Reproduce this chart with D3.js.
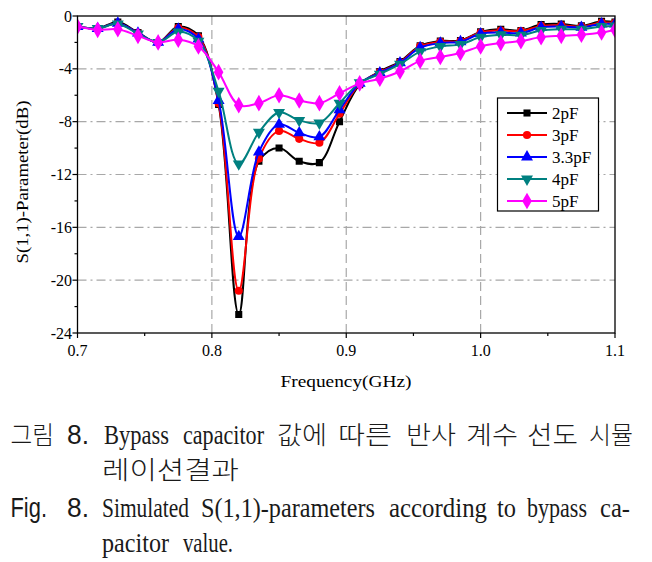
<!DOCTYPE html>
<html><head><meta charset="utf-8">
<script src="https://cdn.jsdelivr.net/npm/d3@7"></script>
<style>html,body{margin:0;padding:0;background:#fff;}</style>
</head><body>
<script>
const freq = [0.7,0.715,0.73,0.745,0.76,0.775,0.79,0.805,0.82,0.835,0.85,0.865,0.88,0.895,0.91,0.925,0.94,0.955,0.97,0.985,1.0,1.015,1.03,1.045,1.06,1.075,1.09,1.1];
const s2pF  = [-0.8,-0.95,-0.45,-1.25,-2.0,-0.8,-1.5,-6.7,-22.6,-11.0,-10.0,-11.0,-11.1,-8.0,-5.2,-4.2,-3.45,-2.25,-1.9,-1.85,-1.2,-1.0,-1.1,-0.65,-0.6,-0.75,-0.4,-0.45];
const s3pF  = [-0.8,-0.95,-0.55,-1.3,-2.0,-0.9,-1.6,-6.6,-20.8,-10.8,-8.7,-9.3,-9.6,-7.4,-5.15,-4.25,-3.5,-2.3,-1.95,-1.9,-1.25,-1.1,-1.15,-0.75,-0.7,-0.8,-0.5,-0.52];
const s33pF = [-0.8,-0.95,-0.55,-1.3,-2.0,-1.0,-1.75,-6.4,-16.7,-10.3,-8.2,-8.85,-9.15,-7.1,-5.1,-4.3,-3.55,-2.4,-2.05,-1.95,-1.35,-1.25,-1.3,-0.86,-0.8,-0.86,-0.6,-0.6];
const s4pF  = [-0.8,-0.95,-0.6,-1.35,-2.0,-1.2,-1.9,-5.7,-11.2,-8.8,-7.3,-7.9,-8.1,-6.6,-5.05,-4.4,-3.65,-2.7,-2.3,-2.15,-1.6,-1.42,-1.45,-1.1,-1.0,-1.0,-0.8,-0.75];
const s5pF  = [-0.8,-1.05,-1.0,-1.5,-2.0,-1.8,-2.3,-4.25,-6.75,-6.6,-6.0,-6.4,-6.6,-5.85,-5.1,-4.75,-4.2,-3.4,-3.1,-2.8,-2.3,-2.05,-1.9,-1.6,-1.5,-1.42,-1.25,-1.05];
const seriesNames = ["2pF","3pF","3.3pF","4pF","5pF"];
const seriesValues = [s2pF,s3pF,s33pF,s4pF,s5pF];
const seriesColors = ["#000000","#ff0000","#0000ff","#008080","#ff00ff"];
const xTicks = [0.7,0.8,0.9,1.0,1.1];
const xTickLabels = ["0.7","0.8","0.9","1.0","1.1"];
const yTicks = [0,-4,-8,-12,-16,-20,-24];
const xLabel = "Frequency(GHz)";
const yLabel = "S(1,1)-Parameter(dB)";

const W=652,H=562;
const svg=d3.select("body").append("svg").attr("width",W).attr("height",H).style("background","#fff");
const L=77.5,R=615,T=16,B=333;
const x=d3.scaleLinear().domain([0.7,1.1]).range([L,R]);
const y=d3.scaleLinear().domain([0,-24]).range([T,B]);
const serif="'Liberation Serif','Times New Roman',serif";

// grid
const g=svg.append("g");
g.selectAll(".vg").data([0.8,0.9,1.0]).enter().append("line")
 .attr("x1",d=>x(d)).attr("x2",d=>x(d)).attr("y1",T).attr("y2",B)
 .attr("stroke","#a8a8a8").attr("stroke-width",1.2).attr("stroke-dasharray","9,5");
g.selectAll(".hg").data([-4,-8,-12,-16,-20]).enter().append("line")
 .attr("x1",L).attr("x2",R).attr("y1",d=>y(d)).attr("y2",d=>y(d))
 .attr("stroke","#a8a8a8").attr("stroke-width",1.2).attr("stroke-dasharray","9,4,2,4");

// clip
svg.append("clipPath").attr("id","clip").append("rect").attr("x",L).attr("y",T).attr("width",R-L).attr("height",B-T);

const symbols=[d3.symbolSquare,d3.symbolCircle,d3.symbolTriangle,d3.symbolTriangle,d3.symbolDiamond];
const sizes=[50,52,62,62,80];
const rot=[0,0,0,180,0];
const line=d3.line().x(d=>x(d[0])).y(d=>y(d[1])).curve(d3.curveCatmullRom.alpha(0.5));
const plot=svg.append("g").attr("clip-path","url(#clip)");
seriesValues.forEach((vals,k)=>{
  const pts=freq.map((f,i)=>[f,vals[i]]);
  plot.append("path").datum(pts).attr("d",line).attr("fill","none")
   .attr("stroke",seriesColors[k]).attr("stroke-width",2);
  plot.selectAll(".m"+k).data(pts).enter().append("path")
   .attr("d",d3.symbol().type(symbols[k]).size(sizes[k]))
   .attr("transform",d=>`translate(${x(d[0])},${y(d[1])}) rotate(${rot[k]})`)
   .attr("fill",seriesColors[k]);
});

// frame
svg.append("rect").attr("x",L).attr("y",T).attr("width",R-L).attr("height",B-T)
 .attr("fill","none").attr("stroke","#000").attr("stroke-width",1.3);

// ticks
const ax=svg.append("g");
xTicks.forEach((t,i)=>{
  ax.append("line").attr("x1",x(t)).attr("x2",x(t)).attr("y1",B).attr("y2",B+5).attr("stroke","#000").attr("stroke-width",1.2);
  ax.append("text").attr("x",x(t)).attr("y",356).attr("text-anchor","middle")
   .attr("font-family",serif).attr("font-size",16).text(xTickLabels[i]);
});
d3.range(0.75,1.1,0.1).forEach(t=>{
  ax.append("line").attr("x1",x(t)).attr("x2",x(t)).attr("y1",B).attr("y2",B+3).attr("stroke","#000").attr("stroke-width",1.2);
});
yTicks.forEach(t=>{
  ax.append("line").attr("x1",L-5).attr("x2",L).attr("y1",y(t)).attr("y2",y(t)).attr("stroke","#000").attr("stroke-width",1.2);
  ax.append("text").attr("x",72).attr("y",y(t)+5.5).attr("text-anchor","end")
   .attr("font-family",serif).attr("font-size",16).text(t===0?"0":String(t));
});
[-2,-6,-10,-14,-18,-22].forEach(t=>{
  ax.append("line").attr("x1",L-3).attr("x2",L).attr("y1",y(t)).attr("y2",y(t)).attr("stroke","#000").attr("stroke-width",1.2);
});
svg.append("text").attr("x",346).attr("y",387).attr("text-anchor","middle")
 .attr("font-family",serif).attr("font-size",17).attr("textLength",131).attr("lengthAdjust","spacingAndGlyphs").text(xLabel);
svg.append("text").attr("transform","translate(28,182) rotate(-90)").attr("text-anchor","middle")
 .attr("font-family",serif).attr("font-size",17).attr("textLength",163).attr("lengthAdjust","spacingAndGlyphs").text(yLabel);

// legend
const lg=svg.append("g");
lg.append("rect").attr("x",497.5).attr("y",98).attr("width",101).attr("height",113)
 .attr("fill","#fff").attr("stroke","#000").attr("stroke-width",1.2);
seriesNames.forEach((n,k)=>{
  const yy=113+k*22;
  lg.append("line").attr("x1",507).attr("x2",547).attr("y1",yy).attr("y2",yy).attr("stroke",seriesColors[k]).attr("stroke-width",2);
  lg.append("path").attr("d",d3.symbol().type(symbols[k]).size(sizes[k])())
   .attr("transform",`translate(527,${yy}) rotate(${rot[k]})`).attr("fill",seriesColors[k]);
  lg.append("text").attr("x",552).attr("y",yy+6).attr("font-family",serif).attr("font-size",17).text(n);
});

// caption
const kr="'Noto Sans CJK KR','Noto Sans',sans-serif";
const sans="'Liberation Sans','Noto Sans',sans-serif";
const cap=[
 [444,[["그림",10.5,54,kr,25],["8.",67,89,sans,27],["Bypass",104,169,serif,27],["capacitor",183,264,serif,27],
       ["값에",277,327,kr,25],["따른",338,392,kr,25],["반사",406,456,kr,25],["계수",466,518,kr,25],["선도",527,578,kr,25],["시뮬",589,633,kr,25]]],
 [479,[["레이션결과",102,239,kr,25]]],
 [517,[["Fig.",10.5,47,sans,27],["8.",67,89,sans,27],["Simulated",102,189,serif,27],["S(1,1)-parameters",201,375,serif,27],
       ["according",389,487,serif,27],["to",497,516,serif,27],["bypass",527,587,serif,27],["ca-",600,630,serif,27]]],
 [552,[["pacitor",102,169,serif,27],["value.",183,233,serif,27]]]
];
const cg=svg.append("g").attr("fill","#1a1a1a");
cap.forEach(([by,words])=>{
  words.forEach(([t,x0,x1,f,fs])=>{
    cg.append("text").attr("x",x0).attr("y",by).attr("font-family",f).attr("font-size",fs)
     .attr("font-weight",f===kr?300:400)
     .attr("textLength",x1-x0).attr("lengthAdjust","spacingAndGlyphs").text(t);
  });
});
</script>
</body></html>
